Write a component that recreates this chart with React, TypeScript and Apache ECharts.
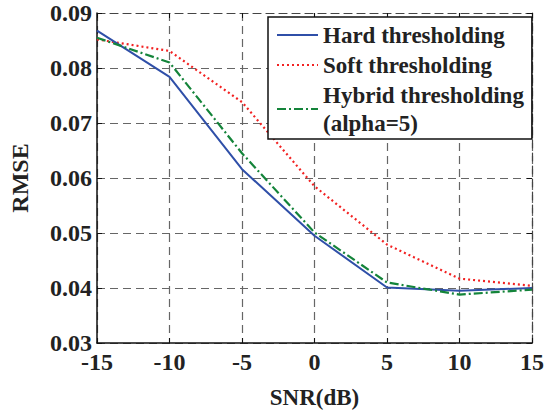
import React, { useEffect, useRef } from "react";
import * as echarts from "echarts";

const snr = [-15, -10, -5, 0, 5, 10, 15];
const hard = [0.0868, 0.0784, 0.0616, 0.0495, 0.0401, 0.0395, 0.04];
const soft = [0.0852, 0.0831, 0.0738, 0.0585, 0.0479, 0.0417, 0.0404];
const hybrid = [0.0855, 0.081, 0.0645, 0.0501, 0.041, 0.0388, 0.0397];
const seriesNames = ["Hard thresholding", "Soft thresholding", "Hybrid thresholding\n(alpha=5)"];

const FONT = "'Liberation Serif', 'Times New Roman', serif";

export default function App() {
  const ref = useRef<HTMLDivElement>(null);
  useEffect(() => {
    if (!ref.current) return;
    const chart = echarts.init(ref.current, null, { renderer: "svg" });
    const pair = (arr: number[]) => snr.map((x, i) => [x, arr[i]]);
    const gridLine = { show: true, lineStyle: { color: "#666", type: [8, 5] as any, width: 1.2 } };
    chart.setOption({
      animation: false,
      backgroundColor: "#fff",
      grid: { left: 81, right: 14, top: 13, bottom: 55, containLabel: false },
      legend: {
        orient: "vertical",
        left: 268,
        top: 17,
        backgroundColor: "#fff",
        borderColor: "#111",
        borderWidth: 1.5,
        borderRadius: 0,
        padding: [4, 8, 2, 8],
        itemWidth: 41,
        itemHeight: 28,
        itemGap: 2,
        itemStyle: { opacity: 0 },
        textStyle: { fontFamily: FONT, fontWeight: "bold", fontSize: 23, color: "#222", lineHeight: 28 },
        data: seriesNames,
      },
      xAxis: [
        {
          type: "value",
          min: -15,
          max: 15,
          interval: 5,
          name: "SNR(dB)",
          nameLocation: "middle",
          nameGap: 43,
          nameTextStyle: { fontFamily: FONT, fontWeight: "bold", fontSize: 23, color: "#222" },
          axisLine: { show: true, onZero: false, lineStyle: { color: "#111", width: 1.5 } },
          axisTick: { show: true, inside: true, length: 5, lineStyle: { color: "#111" } },
          axisLabel: { fontFamily: FONT, fontWeight: "bold", fontSize: 24, color: "#222", margin: 7 },
          splitLine: gridLine,
        },
        {
          type: "value",
          position: "top",
          min: -15,
          max: 15,
          interval: 5,
          axisLine: { show: true, onZero: false, lineStyle: { color: "#444", width: 1.2, type: [8, 5] } },
          axisTick: { show: true, inside: true, length: 5, lineStyle: { color: "#111" } },
          axisLabel: { show: false },
          splitLine: { show: false },
        },
      ],
      yAxis: [
        {
          type: "value",
          min: 0.03,
          max: 0.09,
          interval: 0.01,
          name: "RMSE",
          nameLocation: "middle",
          nameGap: 65,
          nameTextStyle: { fontFamily: FONT, fontWeight: "bold", fontSize: 24, color: "#222" },
          axisLine: { show: true, onZero: false, lineStyle: { color: "#111", width: 1.5 } },
          axisTick: { show: true, inside: true, length: 5, lineStyle: { color: "#111" } },
          axisLabel: {
            fontFamily: FONT,
            fontWeight: "bold",
            fontSize: 24,
            color: "#222",
            margin: 5,
            formatter: (v: number) => v.toFixed(2),
          },
          splitLine: gridLine,
        },
        {
          type: "value",
          position: "right",
          min: 0.03,
          max: 0.09,
          interval: 0.01,
          axisLine: { show: true, onZero: false, lineStyle: { color: "#444", width: 1.2, type: [8, 5] } },
          axisTick: { show: true, inside: true, length: 5, lineStyle: { color: "#111" } },
          axisLabel: { show: false },
          splitLine: { show: false },
        },
      ],
      series: [
        {
          name: seriesNames[0],
          type: "line",
          data: pair(hard),
          symbol: "none",
          lineStyle: { color: "#2f4fa8", width: 2, type: "solid" },
          itemStyle: { color: "#2f4fa8" },
          z: 3,
        },
        {
          name: seriesNames[1],
          type: "line",
          data: pair(soft),
          symbol: "none",
          lineStyle: { color: "#f22222", width: 2.2, type: [2, 3] },
          itemStyle: { color: "#f22222" },
          z: 2,
        },
        {
          name: seriesNames[2],
          type: "line",
          data: pair(hybrid),
          symbol: "none",
          lineStyle: { color: "#14843a", width: 2.2, type: [9, 3, 2, 3] },
          itemStyle: { color: "#14843a" },
          z: 4,
        },
      ],
    });
    return () => chart.dispose();
  }, []);
  return <div ref={ref} style={{ position: "fixed", left: 0, top: 0, width: 547, height: 414 }} />;
}
